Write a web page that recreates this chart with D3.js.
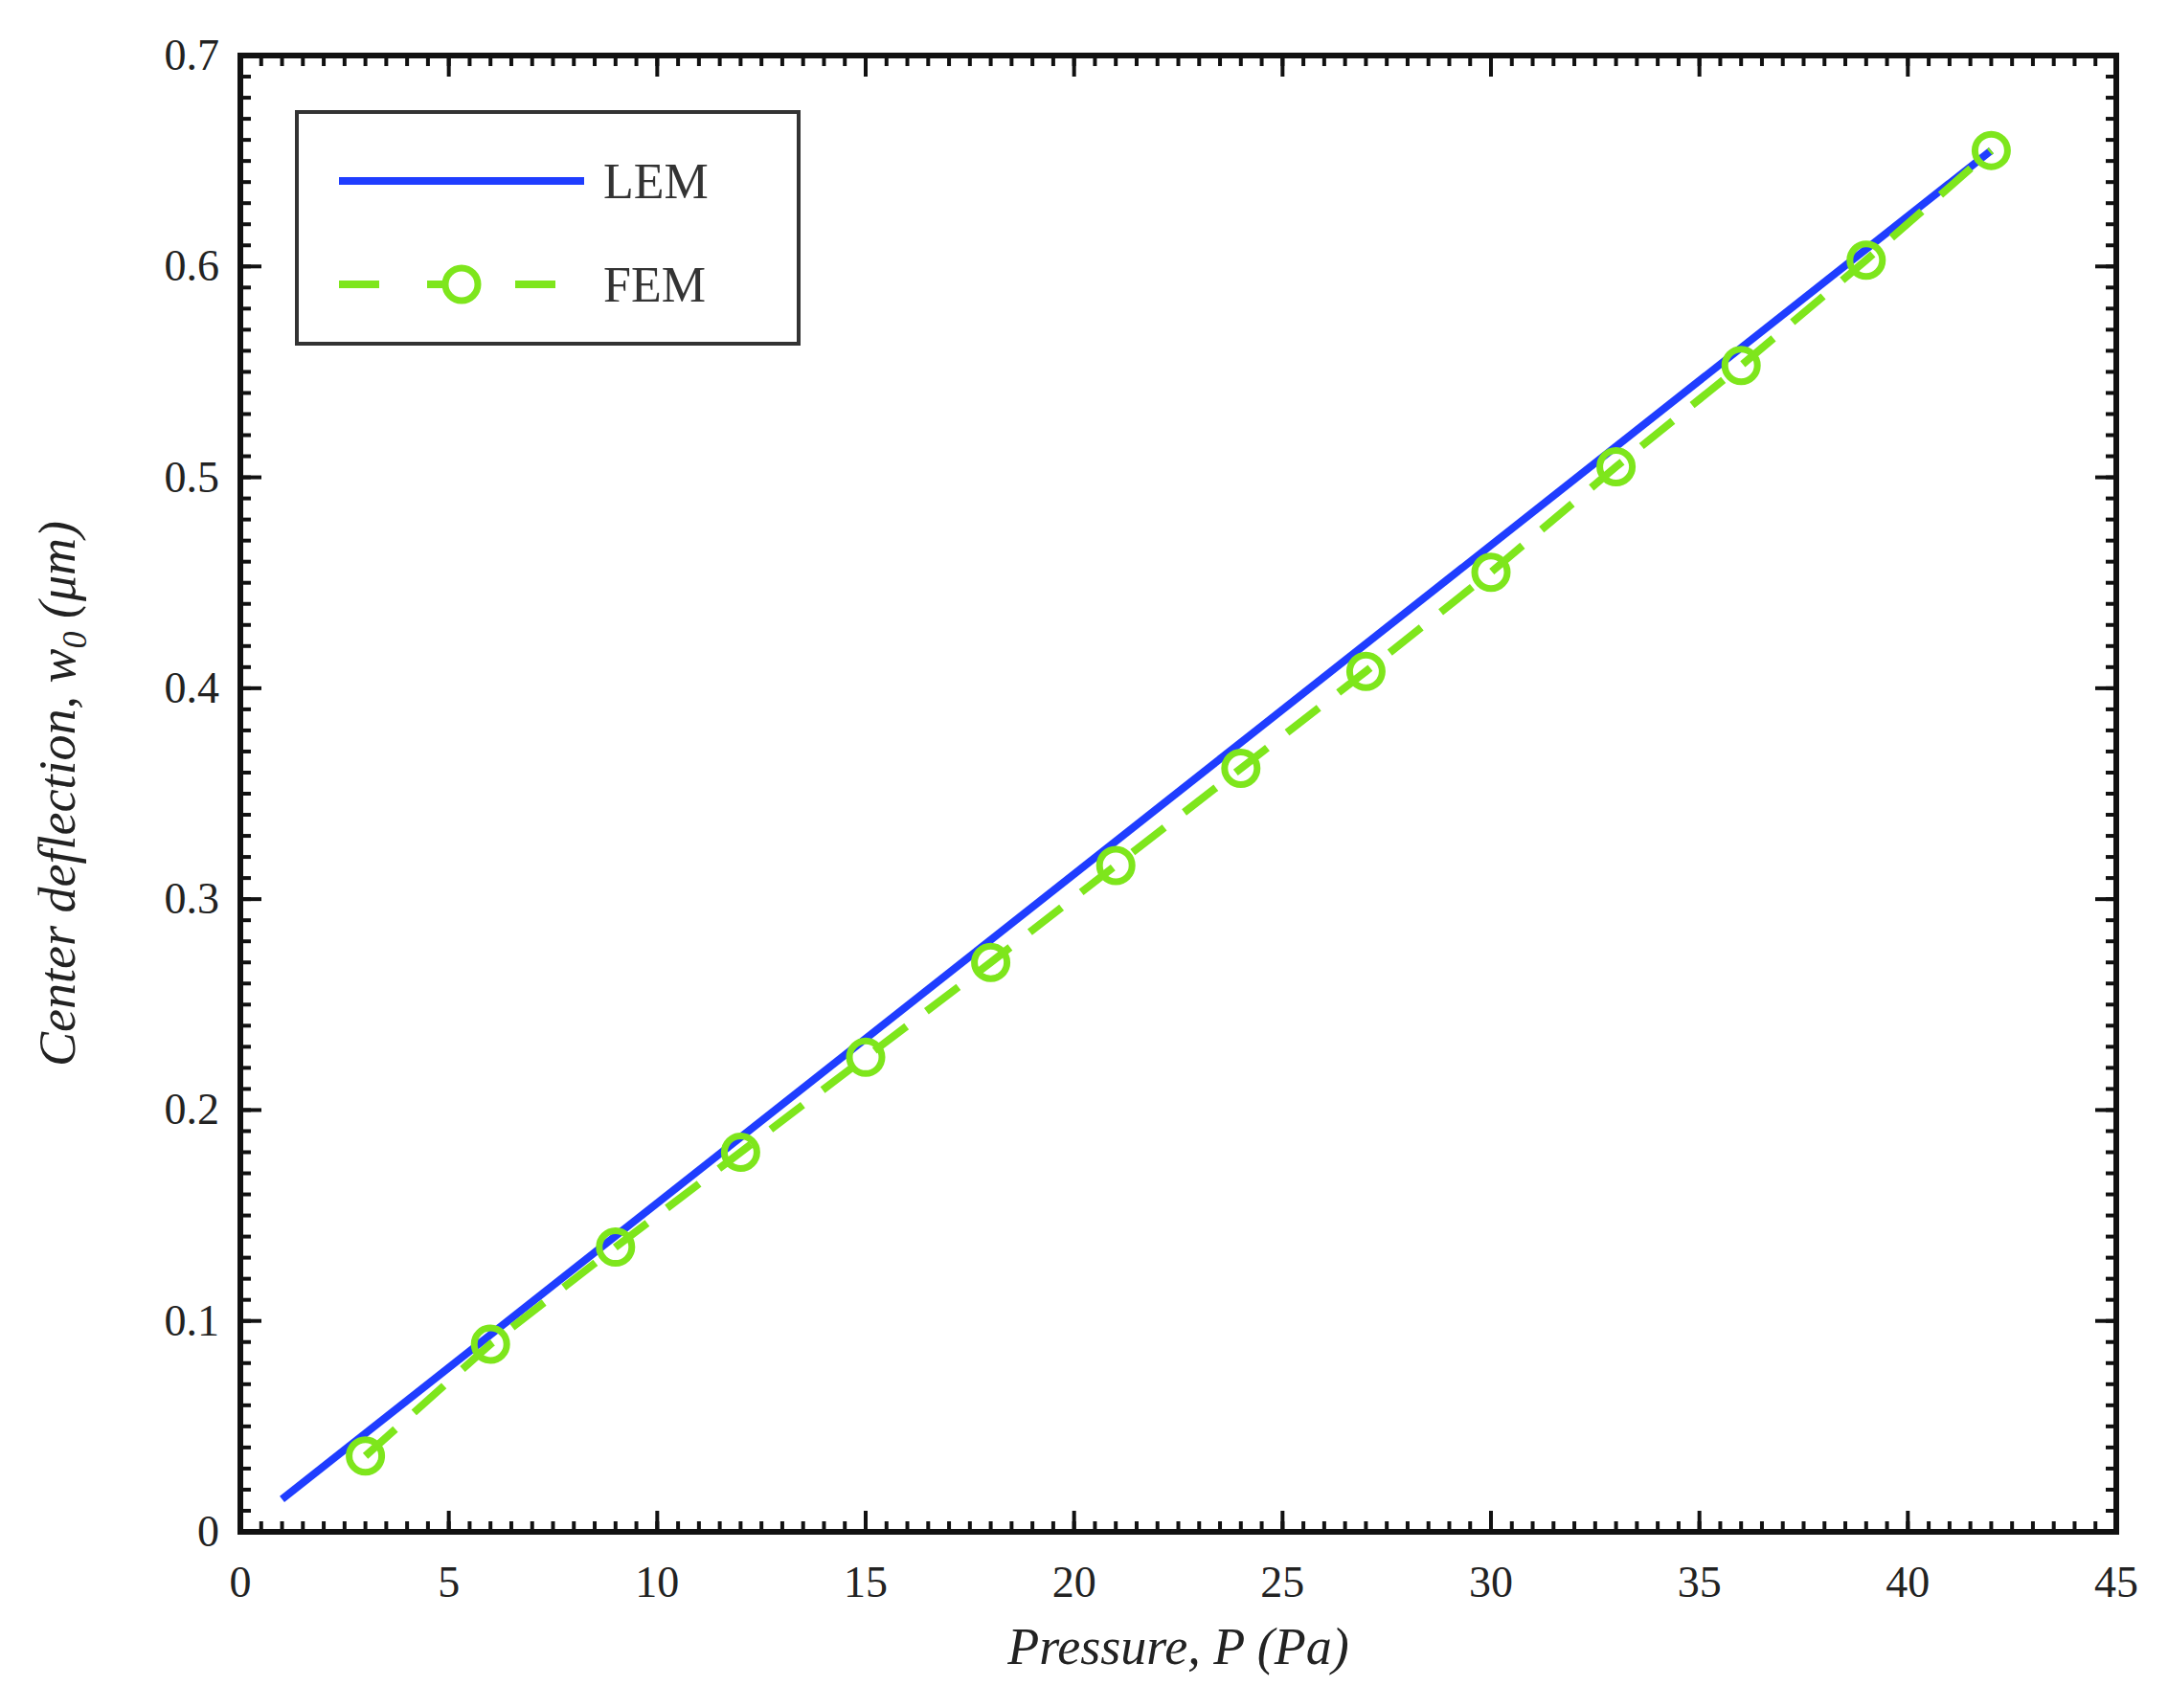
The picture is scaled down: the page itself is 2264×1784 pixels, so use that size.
<!DOCTYPE html>
<html><head><meta charset="utf-8">
<script src="https://cdn.jsdelivr.net/npm/d3@7"></script>
<style>body{margin:0;background:#fff}</style>
</head><body><svg id="c"></svg>
<script>
const width = 2264, height = 1784;
const margin = {left: 251, right: 54, top: 58, bottom: 184};

// data
const xTicks = [0, 5, 10, 15, 20, 25, 30, 35, 40, 45];
const yTicks = [0, 0.1, 0.2, 0.3, 0.4, 0.5, 0.6, 0.7];
const lemP = [1, 42];
const lemW = [0.0155, 0.655];
const femP = [3, 6, 9, 12, 15, 18, 21, 24, 27, 30, 33, 36, 39, 42];
const femW = [0.036, 0.089, 0.135, 0.180, 0.225, 0.270, 0.316, 0.362, 0.408, 0.455, 0.505, 0.553, 0.603, 0.655];

const blue = "#1f3dff", green = "#7ee61c";
const svg = d3.select("#c").attr("width", width).attr("height", height);
const iw = width - margin.left - margin.right, ih = height - margin.top - margin.bottom;
const g = svg.append("g").attr("transform", `translate(${margin.left},${margin.top})`);

const x = d3.scaleLinear().domain([0, 45]).range([0, iw]);
const y = d3.scaleLinear().domain([0, 0.7]).range([ih, 0]);
const font = "'Liberation Serif', serif";

// ticks inward on all four sides
const minorX = d3.range(0, 45.01, 0.5), minorY = d3.range(0, 0.7001, 0.01);
function ticks(sel, vals, len, horiz) {
  vals.forEach(v => {
    if (horiz) {
      sel.append("line").attr("x1", x(v)).attr("x2", x(v)).attr("y1", ih).attr("y2", ih - len);
      sel.append("line").attr("x1", x(v)).attr("x2", x(v)).attr("y1", 0).attr("y2", len);
    } else {
      sel.append("line").attr("y1", y(v)).attr("y2", y(v)).attr("x1", 0).attr("x2", len);
      sel.append("line").attr("y1", y(v)).attr("y2", y(v)).attr("x1", iw).attr("x2", iw - len);
    }
  });
}
const tg = g.append("g").attr("stroke", "#111").attr("stroke-width", 4);
ticks(tg, minorX, 11, true);
ticks(tg, minorY, 11, false);
ticks(tg, xTicks, 22, true);
ticks(tg, yTicks, 22, false);
g.append("rect").attr("width", iw).attr("height", ih).attr("fill", "none")
  .attr("stroke", "#111").attr("stroke-width", 6);

g.append("g").selectAll("text").data(xTicks).join("text")
  .attr("x", d => x(d)).attr("y", ih + 68).attr("text-anchor", "middle")
  .attr("font-family", font).attr("font-size", 46).attr("fill", "#222").text(d => d);
g.append("g").selectAll("text").data(yTicks).join("text")
  .attr("x", -22).attr("y", d => y(d) + 15).attr("text-anchor", "end")
  .attr("font-family", font).attr("font-size", 46).attr("fill", "#222").text(d => d);

// axis titles
svg.append("text").attr("x", margin.left + iw / 2).attr("y", 1738).attr("text-anchor", "middle")
  .attr("font-family", font).attr("font-style", "italic").attr("font-size", 54).attr("fill", "#222")
  .text("Pressure, P (Pa)");
const yl = svg.append("text").attr("transform", `translate(78,${margin.top + ih / 2}) rotate(-90)`)
  .attr("text-anchor", "middle").attr("font-family", font).attr("font-style", "italic")
  .attr("font-size", 54).attr("fill", "#222");
yl.append("tspan").text("Center deflection, w");
yl.append("tspan").attr("font-size", 36).attr("dy", 12).text("0");
yl.append("tspan").attr("dy", -12).text(" (μm)");

// series
const line = d3.line().x(d => x(d[0])).y(d => y(d[1]));
g.append("path").datum(lemP.map((p, i) => [p, lemW[i]])).attr("d", line)
  .attr("fill", "none").attr("stroke", blue).attr("stroke-width", 8);
const fem = femP.map((p, i) => [p, femW[i]]);
g.append("path").datum(fem).attr("d", line).attr("fill", "none")
  .attr("stroke", green).attr("stroke-width", 8).attr("stroke-dasharray", "42,26");
g.append("g").selectAll("circle").data(fem).join("circle")
  .attr("cx", d => x(d[0])).attr("cy", d => y(d[1])).attr("r", 17)
  .attr("fill", "none").attr("stroke", green).attr("stroke-width", 7);

// legend
const lg = svg.append("g").attr("transform", "translate(310,117)");
lg.append("rect").attr("width", 524).attr("height", 242).attr("fill", "#fff")
  .attr("stroke", "#333").attr("stroke-width", 4);
lg.append("line").attr("x1", 44).attr("x2", 300).attr("y1", 72).attr("y2", 72)
  .attr("stroke", blue).attr("stroke-width", 8);
lg.append("line").attr("x1", 44).attr("x2", 300).attr("y1", 180).attr("y2", 180)
  .attr("stroke", green).attr("stroke-width", 8).attr("stroke-dasharray", "42,50");
lg.append("circle").attr("cx", 172).attr("cy", 180).attr("r", 17).attr("fill", "#fff")
  .attr("stroke", green).attr("stroke-width", 7);
lg.append("text").attr("x", 320).attr("y", 90).attr("font-family", font).attr("font-size", 52)
  .attr("fill", "#333").text("LEM");
lg.append("text").attr("x", 320).attr("y", 198).attr("font-family", font).attr("font-size", 52)
  .attr("fill", "#333").text("FEM");
</script></body></html>
